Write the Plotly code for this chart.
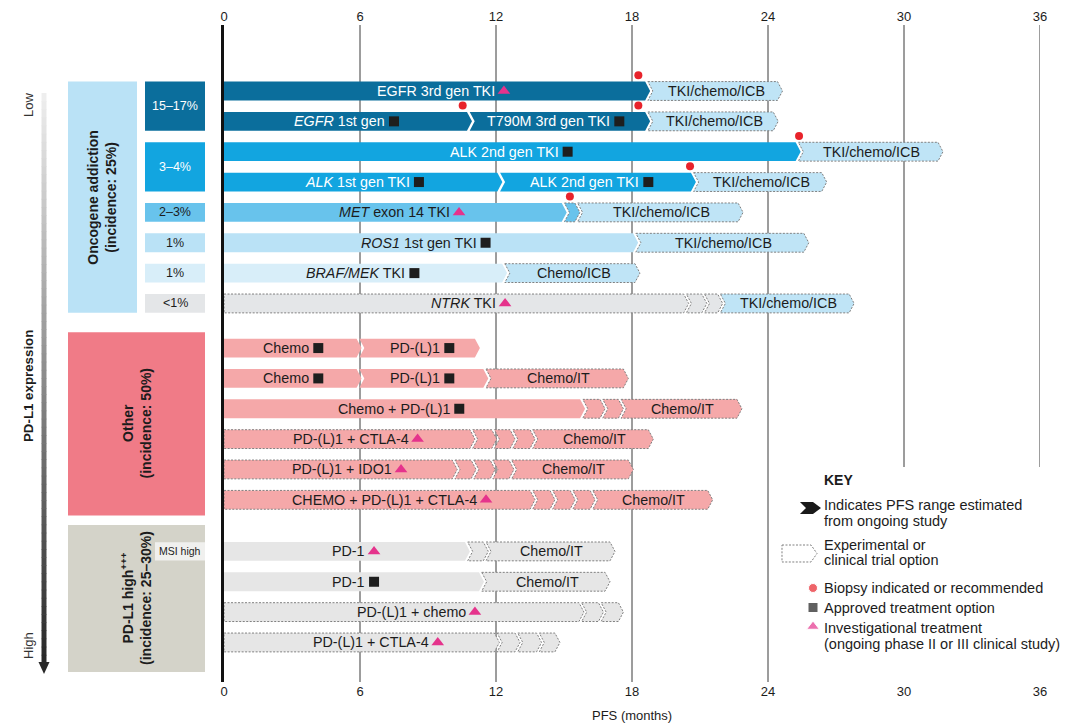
import plotly.graph_objects as go

# ---------------- data ----------------
TICKS = [0, 6, 12, 18, 24, 30, 36]
GRID = [6, 12, 18, 24, 30, 36]
X_TITLE = "PFS (months)"

GROUP_LABELS = ["<b>Oncogene addiction<br>(incidence: 25%)</b>",
                "<b>Other<br>(incidence: 50%)</b>",
                "<b>PD-L1 high<sup>+++</sup><br>(incidence: 25–30%)</b>"]
GROUP_FIRST_ROW = [0, 8, 14]
GROUP_LAST_ROW = [7, 13, 17]

SUBTYPE_LABELS = ["15–17%", "3–4%", "2–3%", "1%", "1%", "<1%"]
SUBTYPE_FIRST_ROW = [0, 2, 4, 5, 6, 7]
SUBTYPE_LAST_ROW = [1, 3, 4, 5, 6, 7]
MSI_LABEL = "MSI high"
MSI_ROW = 14

SEG_LABELS = [
    ["EGFR 3rd gen TKI", "TKI/chemo/ICB"],
    ["<i>EGFR</i> 1st gen", "T790M 3rd gen TKI", "TKI/chemo/ICB"],
    ["ALK 2nd gen TKI", "TKI/chemo/ICB"],
    ["<i>ALK</i> 1st gen TKI", "ALK 2nd gen TKI", "TKI/chemo/ICB"],
    ["<i>MET</i> exon 14 TKI", "", "TKI/chemo/ICB"],
    ["<i>ROS1</i> 1st gen TKI", "TKI/chemo/ICB"],
    ["<i>BRAF/MEK</i> TKI", "Chemo/ICB"],
    ["<i>NTRK</i> TKI", "", "", "TKI/chemo/ICB"],
    ["Chemo", "PD-(L)1"],
    ["Chemo", "PD-(L)1", "Chemo/IT"],
    ["Chemo + PD-(L)1", "", "", "Chemo/IT"],
    ["PD-(L)1 + CTLA-4", "", "", "", "Chemo/IT"],
    ["PD-(L)1 + IDO1", "", "", "", "Chemo/IT"],
    ["CHEMO + PD-(L)1 + CTLA-4", "", "", "", "Chemo/IT"],
    ["PD-1", "", "Chemo/IT"],
    ["PD-1", "Chemo/IT"],
    ["PD-(L)1 + chemo", "", ""],
    ["PD-(L)1 + CTLA-4", "", "", ""],
]
SEG_ENDS = [
    [18.8, 24.64],
    [10.94, 18.8, 24.45],
    [25.44, 31.72],
    [12.28, 20.82, 26.59],
    [15.12, 15.7, 22.9],
    [18.27, 25.8],
    [12.49, 18.35],
    [20.5, 21.3, 22.0, 27.8],
    [6.07, 11.29],
    [6.07, 11.66, 17.84],
    [15.93, 16.81, 17.62, 22.85],
    [11.07, 12.03, 12.84, 13.72, 18.94],
    [10.29, 11.12, 11.96, 12.79, 18.06],
    [13.72, 14.6, 15.49, 16.37, 21.56],
    [10.85, 11.66, 17.25],
    [11.47, 17.03],
    [15.88, 16.74, 17.62],
    [12.15, 13.06, 14.01, 14.82],
]
SEG_KINDS = [
    ["egfr", "next"],
    ["egfr", "egfr", "next"],
    ["alk", "next"],
    ["alk", "alk", "next"],
    ["met", "met_x", "next"],
    ["ros1", "next"],
    ["braf", "next"],
    ["ntrk_x", "ntrk_x", "ntrk_x", "next"],
    ["pink", "pink"],
    ["pink", "pink", "pink_x"],
    ["pink", "pink_x", "pink_x", "pink_x"],
    ["pink_x"] * 5,
    ["pink_x"] * 5,
    ["pink_x"] * 5,
    ["grey", "grey_x", "grey_x"],
    ["grey", "grey_x"],
    ["grey_x"] * 3,
    ["grey_x"] * 4,
]

BIOPSY_ROW = [0, 1, 1, 2, 3, 4]
BIOPSY_X = [18.28, 10.53, 18.28, 25.37, 20.56, 15.26]
APPROVED_ROW = [1, 1, 2, 3, 3, 5, 6, 8, 8, 9, 9, 10, 15]
APPROVED_X = [7.5, 17.44, 15.16, 8.6, 18.72, 11.54, 8.4, 4.16, 9.94, 4.16, 9.94, 10.38, 6.62]
INVEST_ROW = [0, 4, 7, 11, 12, 13, 14, 16, 17]
INVEST_X = [12.35, 10.37, 12.4, 8.54, 7.81, 11.56, 6.62, 11.07, 9.43]

KEY_TITLE = "KEY"
KEY_TEXT_CHEVRON = ["Indicates PFS range estimated", "from ongoing study"]
KEY_TEXT_DASHED = ["Experimental or", "clinical trial option"]
KEY_TEXT_BIOPSY = ["Biopsy indicated or recommended"]
KEY_TEXT_APPROVED = ["Approved treatment option"]
KEY_TEXT_INVEST = ["Investigational treatment", "(ongoing phase II or III clinical study)"]
AXIS_LOW, AXIS_HIGH, AXIS_NAME = "Low", "High", "PD-L1 expression"

# ---------------- styles / layout ----------------
FONT = "Liberation Sans, Arial, Helvetica, sans-serif"
DARK = "#1c1c1c"
DASH_COLOR = "#808080"
KIND_STYLE = {
    "egfr": ("#0b6e9c", False, "white"),
    "alk": ("#12a5e0", False, "white"),
    "met": ("#68c3ec", False, DARK),
    "met_x": ("#68c3ec", True, DARK),
    "ros1": ("#bae2f6", False, DARK),
    "braf": ("#d8eef9", False, DARK),
    "ntrk_x": ("#e4e6e8", True, DARK),
    "next": ("#bfe4f6", True, DARK),
    "pink": ("#f5a8a9", False, DARK),
    "pink_x": ("#f5a8a9", True, DARK),
    "grey": ("#e6e6e6", False, DARK),
    "grey_x": ("#e6e6e6", True, DARK),
}
GROUP_FILL = ["#bae2f6", "#f07b87", "#d4d3c9"]
GROUP_PAD = [(0.31, 0.31), (0.52, 0.52), (0.87, 0.97)]
GROUP_X_PX = [(68, 137), (68, 205), (68, 205)]
SUBTYPE_FILL = ["#0b6e9c", "#12a5e0", "#68c3ec", "#bae2f6", "#d8eef9", "#e4e6e8"]
SUBTYPE_TEXT = ["white", "white", DARK, DARK, DARK, DARK]

W, H = 1080, 728
PL, PR, PT, PB = 224, 1040, 25, 682
ROW0_PX, ROW_PX = 91, 30.35
GROUP_GAP = [0.0, 0.47, 1.17]
HALF = 0.31
TIP = 0.22
GAP = 0.12
XMAX = 36


def xp(px):
    return (px - PL) / (PR - PL)


def yp(py):
    return (PB - py) / (PB - PT)


def xd(px):
    return (px - PL) / (PR - PL) * XMAX


def yd(py):
    return (py - ROW0_PX) / ROW_PX


def ppath(points):
    pts = [f"{xp(a):.5f},{yp(b):.5f}" for a, b in points]
    return "M " + " L ".join(pts) + " Z"


row_group = []
for g, (a, b) in enumerate(zip(GROUP_FIRST_ROW, GROUP_LAST_ROW)):
    row_group += [g] * (b - a + 1)
row_y = [i + GROUP_GAP[g] for i, g in enumerate(row_group)]

shapes = []
annotations = []

# grid lines
for gx in GRID:
    y0 = 0 if gx <= 24 else yp(467)
    shapes.append(dict(type="line", xref="x", yref="paper", x0=gx, x1=gx, y0=y0, y1=1,
                       line=dict(color="#3a3a3a", width=1), layer="below"))

# bars
marker_rows = [(r, x) for r, x in zip(APPROVED_ROW, APPROVED_X)] + \
              [(r, x) for r, x in zip(INVEST_ROW, INVEST_X)]
for r in range(len(SEG_ENDS)):
    y = row_y[r]
    prev = None
    for lab, end, kind in zip(SEG_LABELS[r], SEG_ENDS[r], SEG_KINDS[r]):
        fill, dashed, tcol = KIND_STYLE[kind]
        if prev is None:
            apex = 0.0
            path = (f"M 0,{y-HALF} L {end-TIP},{y-HALF} L {end},{y} "
                    f"L {end-TIP},{y+HALF} L 0,{y+HALF} Z")
        else:
            apex = prev + GAP
            x0 = apex - TIP
            path = (f"M {x0},{y-HALF} L {end-TIP},{y-HALF} L {end},{y} "
                    f"L {end-TIP},{y+HALF} L {x0},{y+HALF} L {apex},{y} Z")
        shapes.append(dict(type="path", path=path, xref="x", yref="y", fillcolor=fill,
                           line=dict(color=DASH_COLOR if dashed else "rgba(0,0,0,0)",
                                     width=1 if dashed else 0, dash="2px,1.5px"),
                           layer="between"))
        if lab:
            mk = [mx for (mr, mx) in marker_rows if mr == r and apex < mx < end]
            if mk:
                annotations.append(dict(x=mk[0], y=y, xref="x", yref="y", text=lab,
                                        showarrow=False, xanchor="right", xshift=-7,
                                        font=dict(family=FONT, size=14.3, color=tcol)))
            else:
                annotations.append(dict(x=(apex + end - TIP / 2) / 2, y=y, xref="x", yref="y",
                                        text=lab, showarrow=False, xanchor="center",
                                        font=dict(family=FONT, size=14.3, color=tcol)))
        prev = end

# left group boxes
for g in range(len(GROUP_LABELS)):
    y0 = row_y[GROUP_FIRST_ROW[g]] - GROUP_PAD[g][0]
    y1 = row_y[GROUP_LAST_ROW[g]] + GROUP_PAD[g][1]
    xa, xb = GROUP_X_PX[g]
    shapes.append(dict(type="rect", xref="paper", yref="y", x0=xp(xa), x1=xp(xb), y0=y0, y1=y1,
                       fillcolor=GROUP_FILL[g], line=dict(width=0), layer="above"))
    annotations.append(dict(x=xp((xa + xb) / 2), y=(y0 + y1) / 2, xref="paper", yref="y",
                            text=GROUP_LABELS[g], textangle=-90, showarrow=False,
                            font=dict(family=FONT, size=14, color=DARK)))

for k, lab in enumerate(SUBTYPE_LABELS):
    y0 = row_y[SUBTYPE_FIRST_ROW[k]] - HALF
    y1 = row_y[SUBTYPE_LAST_ROW[k]] + HALF
    shapes.append(dict(type="rect", xref="paper", yref="y", x0=xp(145), x1=xp(205), y0=y0, y1=y1,
                       fillcolor=SUBTYPE_FILL[k], line=dict(width=0), layer="above"))
    annotations.append(dict(x=xp(175), y=(y0 + y1) / 2, xref="paper", yref="y", text=lab,
                            showarrow=False,
                            font=dict(family=FONT, size=12.5, color=SUBTYPE_TEXT[k])))

shapes.append(dict(type="rect", xref="paper", yref="y", x0=xp(155), x1=xp(205),
                   y0=row_y[MSI_ROW] - 0.3, y1=row_y[MSI_ROW] + 0.3,
                   fillcolor="#f0f0ee", line=dict(width=0), layer="above"))
annotations.append(dict(x=xp(180), y=row_y[MSI_ROW], xref="paper", yref="y", text=MSI_LABEL,
                        showarrow=False, font=dict(family=FONT, size=10.5, color=DARK)))

# gradient arrow
N = 70
top, bot = 93, 663
for k in range(N):
    a = top + (bot - top) * k / N
    b = top + (bot - top) * (k + 1) / N + 0.6
    c = int(round(238 - (238 - 40) * k / (N - 1)))
    shapes.append(dict(type="rect", xref="paper", yref="paper", x0=xp(41.5), x1=xp(46.5),
                       y0=yp(b), y1=yp(a), fillcolor=f"rgb({c},{c},{c})",
                       line=dict(width=0), layer="above"))
shapes.append(dict(type="path", xref="paper", yref="paper",
                   path=ppath([(38.5, 662), (49.5, 662), (44, 674)]),
                   fillcolor="#282828", line=dict(width=0), layer="above"))
annotations.append(dict(x=xp(28), y=yp(105), xref="paper", yref="paper", text=AXIS_LOW,
                        textangle=-90, showarrow=False, font=dict(family=FONT, size=13, color="#333")))
annotations.append(dict(x=xp(28), y=yp(646), xref="paper", yref="paper", text=AXIS_HIGH,
                        textangle=-90, showarrow=False, font=dict(family=FONT, size=13, color="#333")))
annotations.append(dict(x=xp(28), y=yp(386), xref="paper", yref="paper", text=f"<b>{AXIS_NAME}</b>",
                        textangle=-90, showarrow=False, font=dict(family=FONT, size=13.3, color=DARK)))

# key
annotations.append(dict(x=xp(822), y=yp(480), xref="paper", yref="paper", text=f"<b>{KEY_TITLE}</b>",
                        xanchor="left", showarrow=False, font=dict(family=FONT, size=14, color=DARK)))
key_lines = [(505, KEY_TEXT_CHEVRON[0]), (521, KEY_TEXT_CHEVRON[1]),
             (545, KEY_TEXT_DASHED[0]), (560, KEY_TEXT_DASHED[1]),
             (588, KEY_TEXT_BIOPSY[0]), (607.5, KEY_TEXT_APPROVED[0]),
             (627.5, KEY_TEXT_INVEST[0]), (643.5, KEY_TEXT_INVEST[1])]
for py, t in key_lines:
    annotations.append(dict(x=xp(822), y=yp(py), xref="paper", yref="paper", text=t,
                            xanchor="left", showarrow=False,
                            font=dict(family=FONT, size=14.5, color=DARK)))
shapes.append(dict(type="path", xref="paper", yref="paper",
                   path=ppath([(800, 502), (813, 502), (821, 508), (813, 514), (800, 514), (806, 508)]),
                   fillcolor="#1a1a1a", line=dict(width=0), layer="above"))
shapes.append(dict(type="path", xref="paper", yref="paper",
                   path=ppath([(782, 545), (811, 545), (817, 553.5), (811, 562), (782, 562)]),
                   fillcolor="white", line=dict(color=DASH_COLOR, width=1, dash="2px,1.5px"),
                   layer="above"))

# x title
annotations.append(dict(x=0.5, y=yp(715), xref="paper", yref="paper", text=X_TITLE,
                        showarrow=False, font=dict(family=FONT, size=13, color=DARK)))

for a in annotations:
    a.setdefault("xanchor", "center")
    a.setdefault("yanchor", "middle")

fig = go.Figure()
fig.add_trace(go.Scatter(x=BIOPSY_X, y=[row_y[r] - 0.52 for r in BIOPSY_ROW], mode="markers",
                         marker=dict(symbol="circle", size=8, color="#e8232b"),
                         hoverinfo="skip", showlegend=False))
fig.add_trace(go.Scatter(x=APPROVED_X, y=[row_y[r] for r in APPROVED_ROW], mode="markers",
                         marker=dict(symbol="square", size=10, color="#1e1e1e"),
                         hoverinfo="skip", showlegend=False))
fig.add_trace(go.Scatter(x=INVEST_X, y=[row_y[r] for r in INVEST_ROW], mode="markers",
                         marker=dict(symbol="triangle-up", size=11, color="#e5338c"),
                         hoverinfo="skip", showlegend=False))
# key symbols
fig.add_trace(go.Scatter(x=[xd(813)] * 3, y=[yd(588), yd(607.5), yd(626.5)], mode="markers",
                         marker=dict(symbol=["circle", "square", "triangle-up"], size=[9, 10, 11],
                                     color=["#e8232b", "#1e1e1e", "#e5338c"]),
                         hoverinfo="skip", showlegend=False))
fig.add_trace(go.Scatter(x=[0], y=[0], xaxis="x2", mode="markers", marker=dict(opacity=0),
                         hoverinfo="skip", showlegend=False))

axis_common = dict(range=[0, XMAX], tickvals=TICKS, showgrid=False, zeroline=False,
                   showline=False, ticks="", automargin=False,
                   tickfont=dict(family=FONT, size=13, color=DARK), fixedrange=True)
fig.update_layout(
    width=W, height=H,
    margin=dict(l=PL, r=W - PR, t=PT, b=H - PB),
    paper_bgcolor="white", plot_bgcolor="white",
    xaxis=dict(**axis_common, side="bottom"),
    xaxis2=dict(**axis_common, side="top", overlaying="x"),
    yaxis=dict(range=[yd(PB), yd(PT)], showticklabels=False, showgrid=False, zeroline=False,
               showline=True, linecolor="#111", linewidth=3, ticks="", fixedrange=True),
    shapes=shapes, annotations=annotations,
    hovermode=False, showlegend=False,
    font=dict(family=FONT, color=DARK),
)
fig.write_html("out.html", config={"displayModeBar": False},
               post_script="document.body.style.margin='0';document.body.style.padding='0';")
